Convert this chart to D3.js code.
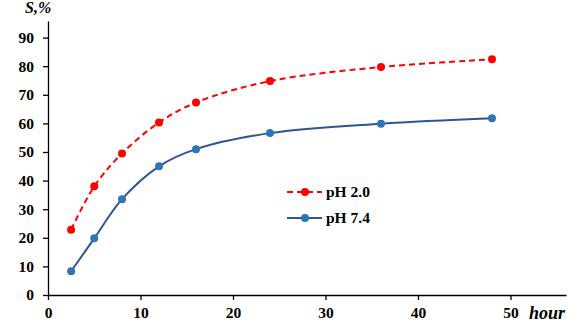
<!DOCTYPE html>
<html>
<head>
<meta charset="utf-8">
<script src="https://cdn.jsdelivr.net/npm/d3@7"></script>
<style>
  body { margin: 0; background: #fff; }
  text { font-family: "Liberation Serif", "Times New Roman", serif; font-weight: bold; fill: #000; }
  .axis path, .axis line { stroke: #000; stroke-width: 1.3; }
</style>
</head>
<body>
<div id="chart"></div>
<script>
// data
const hours = [2.5, 5, 8, 12, 16, 24, 36, 48];
const ph20 = [22.8, 38, 49.5, 60.3, 67.3, 74.8, 79.7, 82.4];
const ph74 = [8.3, 19.8, 33.5, 45, 51, 56.6, 59.9, 61.8];
const seriesNames = ['pH 2.0', 'pH 7.4'];
const xTickVals = [0, 10, 20, 30, 40, 50];
const yTickVals = [0, 10, 20, 30, 40, 50, 60, 70, 80, 90];

const w = 587, h = 327;
const margin = {top: 21, right: 21, bottom: 32, left: 48};

const svg = d3.select('#chart').append('svg')
  .attr('width', w)
  .attr('height', h);

const x = d3.scaleLinear().domain([0, 56]).range([margin.left, w - margin.right]);
const y = d3.scaleLinear().domain([0, 95.8]).range([h - margin.bottom, margin.top]);

svg.append('g')
  .attr('class', 'x axis')
  .attr('transform', 'translate(0,' + y(0) + ')')
  .call(d3.axisBottom(x).tickValues(xTickVals).tickSizeInner(5).tickSizeOuter(0).tickPadding(7))
  .selectAll('text')
  .style('font-size', '15.5px');

svg.append('g')
  .attr('class', 'y axis')
  .attr('transform', 'translate(' + x(0) + ',0)')
  .call(d3.axisLeft(y).tickValues(yTickVals).tickSizeInner(5).tickSizeOuter(0).tickPadding(9))
  .selectAll('text')
  .style('font-size', '15.5px');

svg.append('text')
  .text('S,%')
  .attr('x', 25)
  .attr('y', 13)
  .style('font-style', 'italic')
  .style('font-size', '16px');

svg.append('text')
  .text('hour')
  .attr('x', 529)
  .attr('y', 319)
  .style('font-style', 'italic')
  .style('font-size', '18px');

const line = d3.line()
  .x(d => x(d[0]))
  .y(d => y(d[1]))
  .curve(d3.curveCatmullRom.alpha(0.5));

const series = [
  {name: seriesNames[0], values: d3.zip(hours, ph20), stroke: '#ff0000', dot: '#ff0000', dash: '6,4'},
  {name: seriesNames[1], values: d3.zip(hours, ph74), stroke: '#2f5597', dot: '#2e75b6', dash: null}
];

series.forEach(s => {
  svg.append('path')
    .datum(s.values)
    .attr('fill', 'none')
    .attr('stroke', s.stroke)
    .attr('stroke-width', 2)
    .attr('stroke-dasharray', s.dash)
    .attr('d', line);

  svg.selectAll(null)
    .data(s.values)
    .enter().append('circle')
    .attr('cx', d => x(d[0]))
    .attr('cy', d => y(d[1]))
    .attr('r', 4)
    .attr('fill', s.dot);
});

// legend
const legend = svg.append('g').attr('transform', 'translate(287,192)');
series.forEach((s, i) => {
  const g = legend.append('g').attr('transform', 'translate(0,' + i * 26 + ')');
  g.append('line')
    .attr('x1', 0).attr('x2', 35)
    .attr('stroke', s.stroke)
    .attr('stroke-width', 2)
    .attr('stroke-dasharray', s.dash);
  g.append('circle').attr('cx', 18).attr('r', 4).attr('fill', s.dot);
  g.append('text')
    .text(s.name)
    .attr('x', 39)
    .attr('y', 5)
    .style('font-size', '15.5px');
});
</script>
</body>
</html>
